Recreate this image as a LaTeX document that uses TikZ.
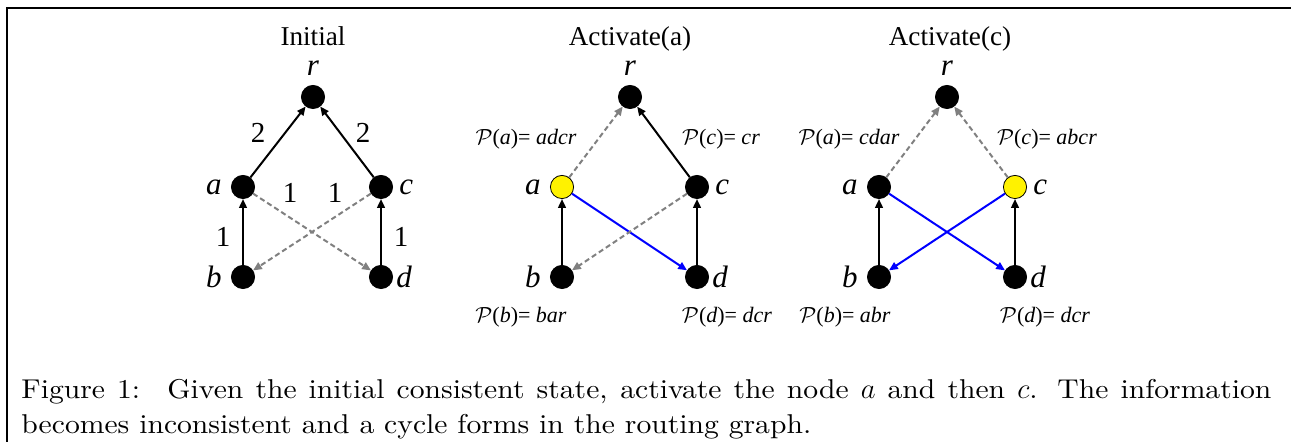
\documentclass[tikz,border=0pt]{standalone}
\usepackage{fontspec}
\newfontfamily\figfont{Liberation Serif}
\newfontfamily\capfont{lmroman10-regular}[Extension=.otf,ItalicFont=lmroman10-italic,FakeStretch=1.09]
\usetikzlibrary{positioning,arrows.meta}

\begin{document}
\begin{tikzpicture}[x=0.5pt,y=-0.5pt,
    vertex/.style={circle,fill=black,draw=black,inner sep=0pt,minimum size=11.6pt},
    active/.style={vertex,fill=yellow,line width=0.4pt},
    title/.style={font=\figfont\fontsize{13.6}{16}\selectfont,inner sep=0pt,anchor=base},
    vname/.style={font=\figfont\itshape\fontsize{15.5}{18}\selectfont,inner sep=0pt},
    weight/.style={font=\figfont\fontsize{14.5}{16}\selectfont,inner sep=0pt},
    route/.style={font=\figfont\fontsize{11}{14}\selectfont,inner sep=0pt},
    tree/.style={-{Triangle[length=4.4pt,width=3.8pt]},line width=1pt},
    old/.style={tree,gray,dash pattern=on 2.6pt off 1.6pt},
    new/.style={tree,blue}]
  \useasboundingbox (0,0) rectangle (1291,442);
  \draw[line width=0.6pt] (7,442) -- (7,8) -- (1291,8);

  % initial state
  \node[title] (t1) at (313,46) {Initial};
  \node[vertex] (r1) at (313,97) {};
  \node[vertex] (a1) at (243,187) {};
  \node[vertex] (c1) at (381,187) {};
  \node[vertex] (b1) at (243,277) {};
  \node[vertex] (d1) at (381,277) {};
  \node[vname, above=4.5pt of r1] (nr1) {r};
  \node[vname, left=4.5pt of a1] (na1) {a};
  \node[vname, right=3pt of c1] (nc1) {c};
  \node[vname, left=4.5pt of b1] (nb1) {b};
  \node[vname, right=1.5pt of d1] (nd1) {d};
  \draw[tree] (a1) -- (r1);
  \draw[tree] (c1) -- (r1);
  \draw[tree] (b1) -- (a1);
  \draw[tree] (d1) -- (c1);
  \draw[old] (a1) -- (d1);
  \draw[old] (c1) -- (b1);
  \node[weight] (w1) at (258,133) {2};
  \node[weight] (w2) at (363,133) {2};
  \node[weight] (w3) at (290,193) {1};
  \node[weight] (w4) at (335,193) {1};
  \node[weight] (w5) at (223,237) {1};
  \node[weight] (w6) at (401,237) {1};

  % activate a
  \node[title] (t2) at (630,46) {Activate(a)};
  \node[vertex] (r2) at (630,97) {};
  \node[active] (a2) at (562,187) {};
  \node[vertex] (c2) at (697,187) {};
  \node[vertex] (b2) at (562,277) {};
  \node[vertex] (d2) at (697,277) {};
  \node[vname, above=4.5pt of r2] (nr2) {r};
  \node[vname, left=4.5pt of a2] (na2) {a};
  \node[vname, right=3pt of c2] (nc2) {c};
  \node[vname, left=4.5pt of b2] (nb2) {b};
  \node[vname, right=1.5pt of d2] (nd2) {d};
  \draw[old] (a2) -- (r2);
  \draw[tree] (c2) -- (r2);
  \draw[tree] (b2) -- (a2);
  \draw[tree] (d2) -- (c2);
  \draw[new] (a2) -- (d2);
  \draw[old] (c2) -- (b2);
  \node[route] (pa2) at (526,139) {$\mathcal{P}$(\textit{a})= \textit{adcr}};
  \node[route] (pc2) at (721,139) {$\mathcal{P}$(\textit{c})= \textit{cr}};
  \node[route] (pb2) at (521,317) {$\mathcal{P}$(\textit{b})= \textit{bar}};
  \node[route] (pd2) at (727,317) {$\mathcal{P}$(\textit{d})= \textit{dcr}};

  % activate c
  \node[title] (t3) at (950,46) {Activate(c)};
  \node[vertex] (r3) at (947,97) {};
  \node[vertex] (a3) at (879,187) {};
  \node[active] (c3) at (1015,187) {};
  \node[vertex] (b3) at (879,277) {};
  \node[vertex] (d3) at (1015,277) {};
  \node[vname, above=4.5pt of r3] (nr3) {r};
  \node[vname, left=4.5pt of a3] (na3) {a};
  \node[vname, right=3pt of c3] (nc3) {c};
  \node[vname, left=4.5pt of b3] (nb3) {b};
  \node[vname, right=1.5pt of d3] (nd3) {d};
  \draw[old] (a3) -- (r3);
  \draw[old] (c3) -- (r3);
  \draw[tree] (b3) -- (a3);
  \draw[tree] (d3) -- (c3);
  \draw[new] (a3) -- (d3);
  \draw[new] (c3) -- (b3);
  \node[route] (pa3) at (849,139) {$\mathcal{P}$(\textit{a})= \textit{cdar}};
  \node[route] (pc3) at (1047,139) {$\mathcal{P}$(\textit{c})= \textit{abcr}};
  \node[route] (pb3) at (845,317) {$\mathcal{P}$(\textit{b})= \textit{abr}};
  \node[route] (pd3) at (1045,317) {$\mathcal{P}$(\textit{d})= \textit{dcr}};

  % caption
  \node[anchor=base west,inner sep=0pt,text width=625pt,align=justify,
        font=\capfont\fontsize{13.6}{17.5}\selectfont] (cap) at (21,399)
    {Figure 1:\quad Given the initial consistent state, activate the node $a$ and then $c$. The information\linebreak
     becomes inconsistent and a cycle forms in the routing graph.};
\end{tikzpicture}
\end{document}
